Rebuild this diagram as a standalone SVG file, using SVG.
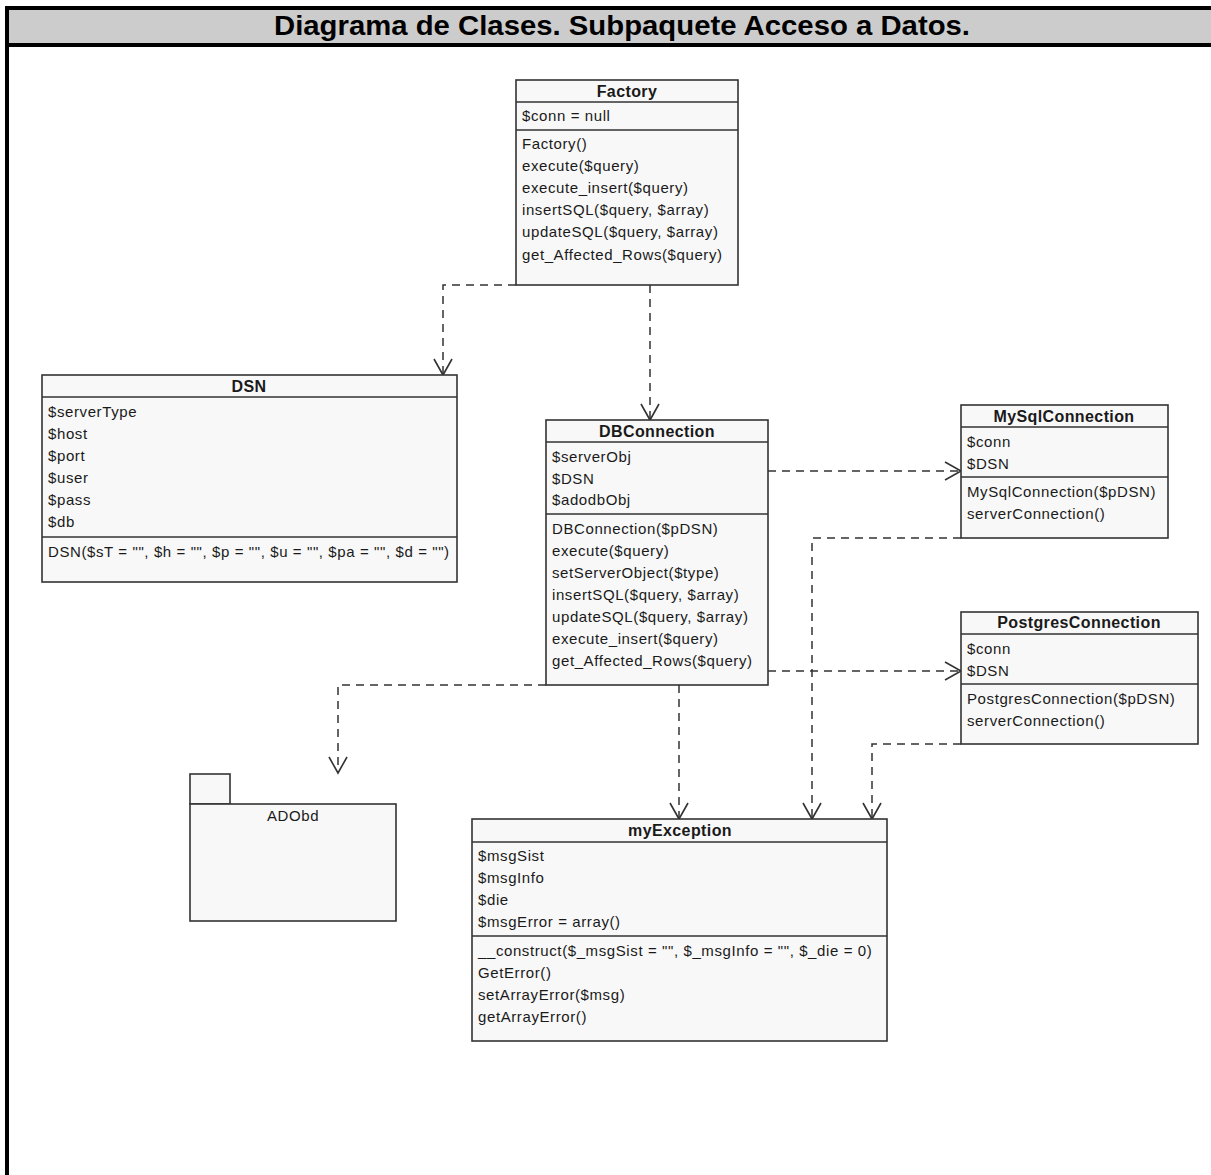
<svg xmlns="http://www.w3.org/2000/svg" width="1211" height="1175" viewBox="0 0 1211 1175">
  <style>
    .box { fill: #f8f8f8; stroke: #333; stroke-width: 1.6; }
    .sep { stroke: #333; stroke-width: 1.6; fill: none; }
    .t { font-family: "Liberation Sans", Arial, sans-serif; font-size: 15px; fill: #1a1a1a; letter-spacing: 0.6px; }
    .h { font-family: "Liberation Sans", Arial, sans-serif; font-size: 16px; font-weight: bold; fill: #1a1a1a; text-anchor: middle; letter-spacing: 0.4px; }
    .dep { fill: none; stroke: #333; stroke-width: 1.5; stroke-dasharray: 8 6; marker-end: url(#open); }
  </style>
  <defs>
    <marker id="open" markerUnits="userSpaceOnUse" markerWidth="24" markerHeight="24" viewBox="-18 -12 24 24" refX="0" refY="0" orient="auto">
      <path d="M -16 -9 L 0 0 L -16 9" fill="none" stroke="#333" stroke-width="1.6"/>
    </marker>
  </defs>

  <rect x="0" y="0" width="1211" height="1175" fill="#ffffff"/>

  <!-- frame and title band -->
  <g id="frame">
    <rect x="7" y="8" width="1210" height="37" fill="#cccccc"/>
    <line x1="5" y1="8" x2="1211" y2="8" stroke="#000" stroke-width="4"/>
    <line x1="5" y1="45" x2="1211" y2="45" stroke="#000" stroke-width="4"/>
    <line x1="7" y1="6" x2="7" y2="1175" stroke="#000" stroke-width="4"/>
    <text x="622" y="35" text-anchor="middle" font-family="Liberation Sans, Arial, sans-serif" font-size="27" font-weight="bold" textLength="696" lengthAdjust="spacingAndGlyphs">Diagrama de Clases. Subpaquete Acceso a Datos.</text>
  </g>

  <!-- dependencies -->
  <g id="connectors">
    <path class="dep" d="M 516 285 H 443 V 375"/>
    <path class="dep" d="M 650 285 V 420"/>
    <path class="dep" d="M 768 471 H 961"/>
    <path class="dep" d="M 768 671 H 961"/>
    <path class="dep" d="M 546 685 H 338 V 773"/>
    <path class="dep" d="M 679 685 V 819"/>
    <path class="dep" d="M 961 538 H 812 V 819"/>
    <path class="dep" d="M 961 744 H 872 V 819"/>
  </g>

  <g id="Factory">
    <rect class="box" x="516" y="80" width="222" height="205"/>
    <line class="sep" x1="516" y1="102" x2="738" y2="102"/>
    <line class="sep" x1="516" y1="130" x2="738" y2="130"/>
    <text class="h" x="627" y="97">Factory</text>
    <text class="t" x="522" y="121">$conn = null</text>
    <text class="t" x="522" y="149">Factory()</text>
    <text class="t" x="522" y="171">execute($query)</text>
    <text class="t" x="522" y="193">execute_insert($query)</text>
    <text class="t" x="522" y="215">insertSQL($query, $array)</text>
    <text class="t" x="522" y="237">updateSQL($query, $array)</text>
    <text class="t" x="522" y="260">get_Affected_Rows($query)</text>
  </g>

  <g id="DSN">
    <rect class="box" x="42" y="375" width="415" height="207"/>
    <line class="sep" x1="42" y1="397" x2="457" y2="397"/>
    <line class="sep" x1="42" y1="537" x2="457" y2="537"/>
    <text class="h" x="249" y="392">DSN</text>
    <text class="t" x="48" y="417">$serverType</text>
    <text class="t" x="48" y="439">$host</text>
    <text class="t" x="48" y="461">$port</text>
    <text class="t" x="48" y="483">$user</text>
    <text class="t" x="48" y="505">$pass</text>
    <text class="t" x="48" y="527">$db</text>
    <text class="t" x="48" y="557">DSN($sT = "", $h = "", $p = "", $u = "", $pa = "", $d = "")</text>
  </g>

  <g id="DBConnection">
    <rect class="box" x="546" y="420" width="222" height="265"/>
    <line class="sep" x1="546" y1="442" x2="768" y2="442"/>
    <line class="sep" x1="546" y1="514" x2="768" y2="514"/>
    <text class="h" x="657" y="437">DBConnection</text>
    <text class="t" x="552" y="462">$serverObj</text>
    <text class="t" x="552" y="484">$DSN</text>
    <text class="t" x="552" y="505">$adodbObj</text>
    <text class="t" x="552" y="534">DBConnection($pDSN)</text>
    <text class="t" x="552" y="556">execute($query)</text>
    <text class="t" x="552" y="578">setServerObject($type)</text>
    <text class="t" x="552" y="600">insertSQL($query, $array)</text>
    <text class="t" x="552" y="622">updateSQL($query, $array)</text>
    <text class="t" x="552" y="644">execute_insert($query)</text>
    <text class="t" x="552" y="666">get_Affected_Rows($query)</text>
  </g>

  <g id="MySqlConnection">
    <rect class="box" x="961" y="405" width="207" height="133"/>
    <line class="sep" x1="961" y1="427" x2="1168" y2="427"/>
    <line class="sep" x1="961" y1="477" x2="1168" y2="477"/>
    <text class="h" x="1064" y="422">MySqlConnection</text>
    <text class="t" x="967" y="447">$conn</text>
    <text class="t" x="967" y="469">$DSN</text>
    <text class="t" x="967" y="497">MySqlConnection($pDSN)</text>
    <text class="t" x="967" y="519">serverConnection()</text>
  </g>

  <g id="PostgresConnection">
    <rect class="box" x="961" y="612" width="237" height="132"/>
    <line class="sep" x1="961" y1="634" x2="1198" y2="634"/>
    <line class="sep" x1="961" y1="684" x2="1198" y2="684"/>
    <text class="h" x="1079" y="628">PostgresConnection</text>
    <text class="t" x="967" y="654">$conn</text>
    <text class="t" x="967" y="676">$DSN</text>
    <text class="t" x="967" y="704">PostgresConnection($pDSN)</text>
    <text class="t" x="967" y="726">serverConnection()</text>
  </g>

  <g id="ADObd">
    <rect class="box" x="190" y="774" width="40" height="30"/>
    <rect class="box" x="190" y="804" width="206" height="117"/>
    <text class="t" x="293" y="821" text-anchor="middle">ADObd</text>
  </g>

  <g id="myException">
    <rect class="box" x="472" y="819" width="415" height="222"/>
    <line class="sep" x1="472" y1="842" x2="887" y2="842"/>
    <line class="sep" x1="472" y1="936" x2="887" y2="936"/>
    <text class="h" x="680" y="836">myException</text>
    <text class="t" x="478" y="861">$msgSist</text>
    <text class="t" x="478" y="883">$msgInfo</text>
    <text class="t" x="478" y="905">$die</text>
    <text class="t" x="478" y="927">$msgError = array()</text>
    <text class="t" x="478" y="956">__construct($_msgSist = "", $_msgInfo = "", $_die = 0)</text>
    <text class="t" x="478" y="978">GetError()</text>
    <text class="t" x="478" y="1000">setArrayError($msg)</text>
    <text class="t" x="478" y="1022">getArrayError()</text>
  </g>
</svg>
